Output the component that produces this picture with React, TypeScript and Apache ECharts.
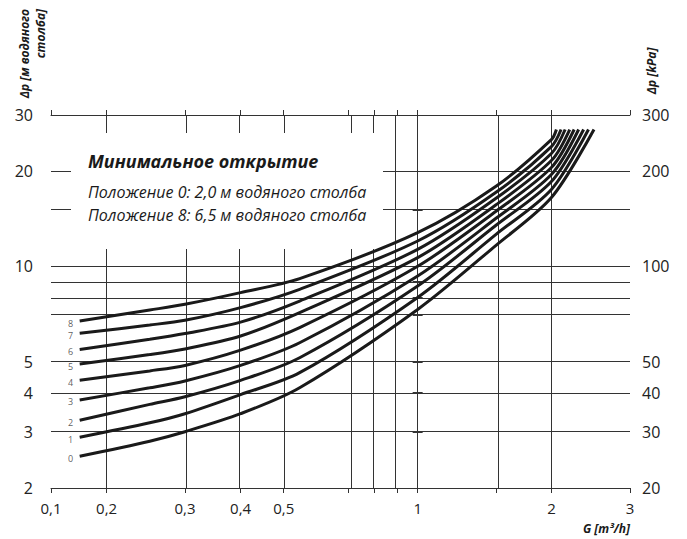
import React, { useEffect, useRef } from "react";
import * as echarts from "echarts";

// Axis ticks and labels
const xLabelValues = [0.15, 0.2, 0.3, 0.4, 0.5, 1, 2, 3];
const xLabelTexts = ["0,1", "0,2", "0,3", "0,4", "0,5", "1", "2", "3"];
const xGridValues = [0.2, 0.3, 0.4, 0.5, 0.7, 0.8, 0.9, 1, 1.5, 2];
const xMin = 0.15;
const xMax = 3;

const yLeftLabels = [2, 3, 4, 5, 10, 20, 30];
const yRightLabels = [20, 30, 40, 50, 100, 200, 300];
const yGridValues = [3, 4, 5, 7, 8, 9, 10, 15, 20];
const yMin = 2;
const yMax = 30;

// Curves: flow G [m3/h] and pressure Δp [m water column]
const gCommon = [0.174, 0.25, 0.3, 0.4, 0.543, 1.0, 1.5, 2.0];
const curveNames = ["0", "1", "2", "3", "4", "5", "6", "7", "8"];
const curve0 = [2.52, 2.81, 3.01, 3.43, 4.14, 7.31, 11.65, 16.51];
const curve1 = [2.89, 3.21, 3.43, 3.94, 4.62, 7.98, 12.61, 17.5];
const curve2 = [3.27, 3.67, 3.88, 4.37, 5.15, 8.67, 13.47, 18.54];
const curve3 = [3.79, 4.14, 4.35, 4.87, 5.74, 9.32, 14.17, 19.51];
const curve4 = [4.37, 4.68, 4.87, 5.44, 6.41, 10.0, 14.91, 20.53];
const curve5 = [4.92, 5.27, 5.49, 6.03, 7.15, 10.65, 15.63, 21.6];
const curve6 = [5.47, 5.89, 6.14, 6.67, 7.77, 11.31, 16.39, 22.73];
const curve7 = [6.15, 6.53, 6.76, 7.41, 8.46, 12.02, 17.12, 23.9];
const curve8 = [6.72, 7.28, 7.59, 8.26, 9.15, 12.77, 17.88, 25.15];
const curveValues = [curve0, curve1, curve2, curve3, curve4, curve5, curve6, curve7, curve8];
const endG = [2.49, 2.42, 2.36, 2.3, 2.247, 2.196, 2.145, 2.1, 2.05];
const endDp = 27.0;

const L = (v: number) => Math.log10(v);
const FONT = "'Open Sans', 'Noto Sans', sans-serif";

export default function App() {
  const ref = useRef<HTMLDivElement>(null);
  useEffect(() => {
    if (!ref.current) return;
    const chart = echarts.init(ref.current, null, { renderer: "svg" });

    const xLabelFmt = (v: number) => {
      const i = xLabelValues.findIndex((x) => Math.abs(L(x) - v) < 1e-6);
      return i >= 0 ? xLabelTexts[i] : "";
    };
    const numFmt = (v: number) => String(Math.round(Math.pow(10, v)));

    const xTickVals = [xMin, ...xGridValues, xMax].map(L);
    const yTickVals = [yMin, ...yGridValues, yMax].map(L);
    const yTickValsR = [yMin, ...yGridValues, yMax].map((v) => L(v * 10));

    const axisLine = { show: true, lineStyle: { color: "#333", width: 1 } };
    const tick = (vals: number[]) => ({
      show: true,
      inside: false,
      length: 5,
      customValues: vals,
      lineStyle: { color: "#333", width: 1 },
    });

    const curveSeries = curveValues.map((vals, ci) => ({
      type: "line",
      name: curveNames[ci],
      xAxisIndex: 0,
      yAxisIndex: 0,
      z: 20,
      showSymbol: false,
      symbol: "none",
      smooth: 0.3,
      silent: true,
      lineStyle: { color: "#1a1a1a", width: 3, cap: "butt" },
      data: [
        ...vals.map((dp, i) => [L(gCommon[i]), L(dp)]),
        [L(endG[ci]), L(endDp)],
      ],
    }));

    const labelSeries = {
      type: "scatter",
      xAxisIndex: 0,
      yAxisIndex: 0,
      z: 21,
      symbolSize: 1,
      silent: true,
      itemStyle: { color: "rgba(0,0,0,0)" },
      label: {
        show: true,
        position: "left",
        distance: 6,
        offset: [0, 2],
        fontSize: 9,
        lineHeight: 10,
        fontFamily: FONT,
        color: "#333",
        formatter: (p: any) => curveNames[p.dataIndex],
      },
      data: curveValues.map((vals) => [L(gCommon[0]), L(vals[0])]),
    };

    const gridSeries = {
      type: "line",
      xAxisIndex: 0,
      yAxisIndex: 0,
      z: 1,
      silent: true,
      showSymbol: false,
      data: [[L(1), L(10)]],
      markLine: {
        silent: true,
        z: 1,
        symbol: ["none", "none"],
        label: { show: false },
        lineStyle: { color: "#333", width: 1, type: "solid" },
        data: [
          ...xGridValues.map((v) => ({ xAxis: L(v) })),
          ...yGridValues.map((v) => ({ yAxis: L(v) })),
        ],
      },
    };

    chart.setOption({
      animation: false,
      backgroundColor: "#fff",
      grid: { left: 51, right: 57, top: 115, bottom: 51, containLabel: false, outerBoundsMode: "none" },
      xAxis: [
        {
          type: "value",
          position: "bottom",
          min: L(xMin),
          max: L(xMax),
          axisLine,
          axisTick: tick(xTickVals),
          splitLine: { show: false },
          axisLabel: {
            customValues: xLabelValues.map(L),
            formatter: xLabelFmt,
            fontSize: 15,
            fontFamily: FONT,
            color: "#222",
            margin: 12,
          },
        },
        {
          type: "value",
          position: "top",
          min: L(xMin),
          max: L(xMax),
          axisLine,
          axisTick: tick(xTickVals),
          splitLine: { show: false },
          axisLabel: { show: false },
        },
      ],
      yAxis: [
        {
          type: "value",
          position: "left",
          min: L(yMin),
          max: L(yMax),
          axisLine,
          axisTick: tick(yTickVals),
          splitLine: { show: false },
          axisLabel: {
            customValues: yLeftLabels.map(L),
            formatter: numFmt,
            fontSize: 16,
            fontFamily: FONT,
            color: "#222",
            margin: 18,
          },
        },
        {
          type: "value",
          position: "right",
          min: L(yMin * 10),
          max: L(yMax * 10),
          axisLine,
          axisTick: tick(yTickValsR),
          splitLine: { show: false },
          axisLabel: {
            customValues: yRightLabels.map(L),
            formatter: numFmt,
            fontSize: 16,
            fontFamily: FONT,
            color: "#222",
            margin: 12,
          },
        },
      ],
      graphic: [
        {
          type: "rect",
          z: 10,
          silent: true,
          shape: { x: 71, y: 133, width: 312, height: 116 },
          style: { fill: "#fff" },
        },
        {
          type: "text",
          z: 30,
          x: 88,
          y: 161,
          style: {
            text: "Минимальное открытие",
            font: `italic bold 18px ${FONT}`,
            fill: "#1a1a1a",
            align: "left",
            verticalAlign: "middle",
          },
        },
        {
          type: "text",
          z: 30,
          x: 88,
          y: 192,
          style: {
            text: "Положение 0: 2,0 м водяного столба",
            font: `italic 16px ${FONT}`,
            fill: "#1a1a1a",
            align: "left",
            verticalAlign: "middle",
          },
        },
        {
          type: "text",
          z: 30,
          x: 88,
          y: 215,
          style: {
            text: "Положение 8: 6,5 м водяного столба",
            font: `italic 16px ${FONT}`,
            fill: "#1a1a1a",
            align: "left",
            verticalAlign: "middle",
          },
        },
        {
          type: "text",
          z: 30,
          x: 16,
          y: 9,
          rotation: Math.PI / 2,
          style: {
            text: "Δp [м водяного\nстолба]",
            font: `italic bold 12px ${FONT}`,
            lineHeight: 16,
            fill: "#1a1a1a",
            align: "right",
            verticalAlign: "top",
          },
        },
        {
          type: "text",
          z: 30,
          x: 651,
          y: 71,
          rotation: Math.PI / 2,
          style: {
            text: "Δp [kPa]",
            font: `italic bold 12px ${FONT}`,
            fill: "#1a1a1a",
            align: "center",
            verticalAlign: "middle",
          },
        },
        {
          type: "text",
          z: 30,
          x: 630,
          y: 528,
          style: {
            text: "G [m³/h]",
            font: `italic bold 12px ${FONT}`,
            fill: "#1a1a1a",
            align: "right",
            verticalAlign: "middle",
          },
        },
      ],
      series: [gridSeries, ...curveSeries, labelSeries],
    });
    return () => chart.dispose();
  }, []);
  return (
    <div
      ref={ref}
      style={{ position: "fixed", left: 0, top: 0, width: 687, height: 539, background: "#fff" }}
    />
  );
}
